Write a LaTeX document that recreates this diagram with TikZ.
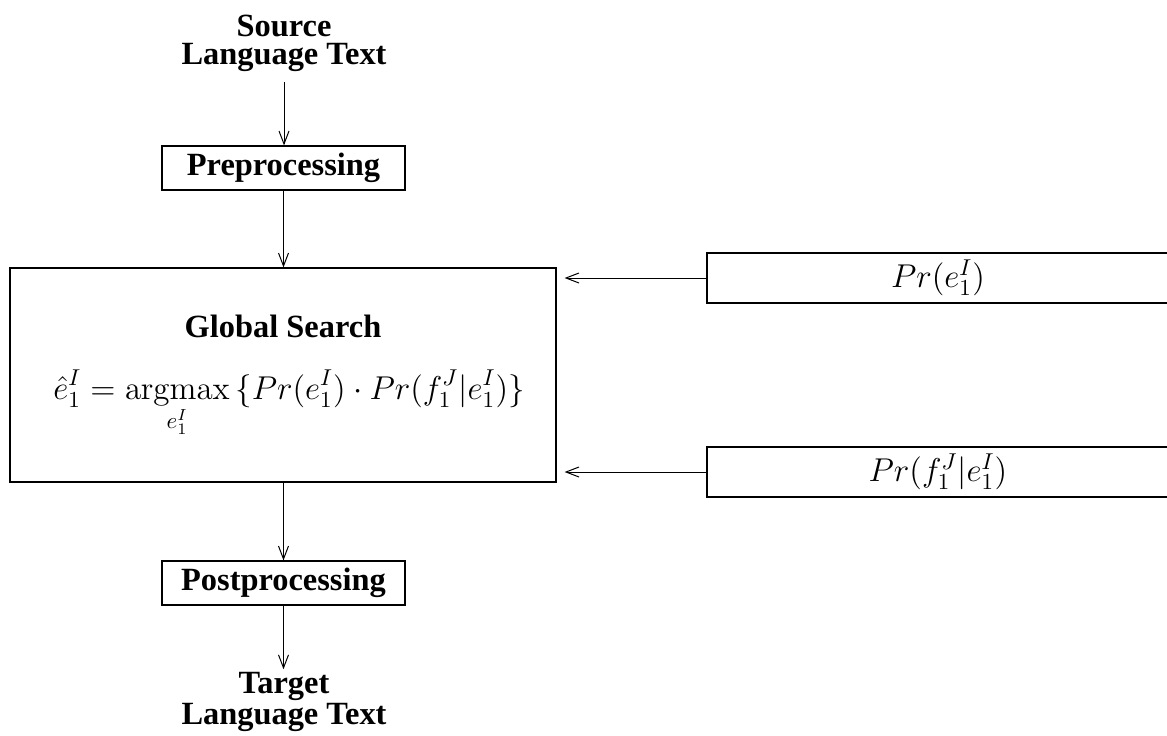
\documentclass[tikz,border=0pt]{standalone}
\usepackage[no-math]{fontspec}
\usepackage{graphicx}
\newfontfamily\tms{Liberation Serif}
\usetikzlibrary{arrows.meta}
\newcommand{\bigmath}[1]{\scalebox{1.146}{$#1$}}
\tikzset{
  box/.style={draw, line width=0.6pt, inner sep=0pt},
  heading/.style={font=\fontsize{16.2pt}{14pt}\selectfont\tms\bfseries, align=center, inner sep=0pt},
  formula/.style={font=\fontsize{14.4pt}{17pt}\selectfont, inner sep=0pt},
  flow/.style={line width=0.5pt, -{Straight Barb[length=6.5pt,width=5pt]}},
}
\begin{document}
\begin{tikzpicture}[x=0.5pt,y=-0.5pt]
\useasboundingbox (0,0) rectangle (1167,735);
\clip (0,0) rectangle (1167,735);

% pipeline column
\node[heading] (src) at (284,43.5) {Source\\Language Text};
\node[box, heading, minimum width=121.5pt, minimum height=22pt] (pre) at (283.5,168) {Preprocessing};
\node[box, minimum width=273pt, minimum height=107pt] (glob) at (283,375) {};
\node[heading, anchor=base] (gtitle) at (283,337) {Global Search};
\node[formula, anchor=base] (gform) at (289,399)
  {\bigmath{\displaystyle \hat e_1^I = \mathop{\mathrm{argmax}}\limits_{e_1^I}\,\{Pr(e_1^I)\cdot Pr(f_1^J|e_1^I)\}}};
\node[box, heading, minimum width=121.5pt, minimum height=22pt] (post) at (283.5,583) {Postprocessing};
\node[heading] (tgt) at (284,702) {Target\\Language Text};

% model boxes on the right
\node[box, formula, minimum width=231pt, minimum height=25pt] (lm) at (938,278) {\bigmath{Pr(e_1^I)}};
\node[box, formula, minimum width=231pt, minimum height=25pt] (tm) at (938,472) {\bigmath{Pr(f_1^J|e_1^I)}};

% connectors
\draw[flow, shorten <=5pt] (src.south) -- (src.south |- pre.north);
\draw[flow] (pre.south) -- (pre.south |- glob.north);
\draw[flow, shorten >=4pt] (lm.west) -- (lm.west -| glob.east);
\draw[flow, shorten >=4pt] (tm.west) -- (tm.west -| glob.east);
\draw[flow] (post.north |- glob.south) -- (post.north);
\draw[flow, shorten >=1.5pt] (post.south) -- (post.south |- tgt.north);
\end{tikzpicture}
\end{document}
